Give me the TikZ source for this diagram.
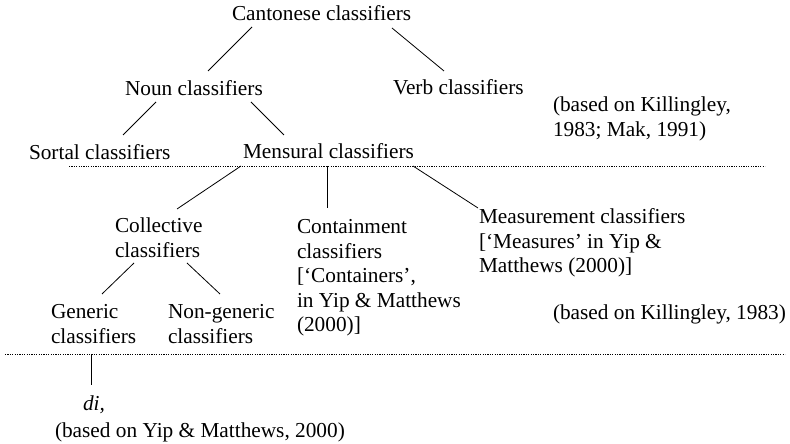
\documentclass[tikz,border=0pt]{standalone}
\usepackage{fontspec}
\setmainfont{Liberation Serif}
\begin{document}
\begin{tikzpicture}[x=1pt,y=1pt,
  txt/.style={inner sep=0pt,outer sep=0pt,font=\fontsize{21.3}{24.5}\selectfont},
  blk/.style={txt,align=left,anchor=north west},
  one/.style={txt,anchor=base west},
  conn/.style={line width=0.8pt},
  sep/.style={line width=0.7pt,dash pattern=on 1.2pt off 1.2pt}]
\useasboundingbox (0,0) rectangle (790,444);
% nodes
\node[one] (cant) at (232,423) {Cantonese classifiers};
\node[one] (noun) at (125,348) {Noun classifiers};
\node[one] (verb) at (393,349) {Verb classifiers};
\node[blk] (basedA) at (553,349.15) {\strut(based on Killingley,\\1983; Mak, 1991)};
\node[one] (sortal) at (29,284) {Sortal classifiers};
\node[one] (mens) at (243,285) {Mensural classifiers};
\node[blk] (coll) at (115,228.15) {\strut Collective\\classifiers};
\node[blk] (cont) at (297,227.15) {\strut Containment\\classifiers\\{[}‘Containers’,\\in Yip \& Matthews\\(2000)]};
\node[blk] (meas) at (479,237.15) {\strut Measurement classifiers\\{[}‘Measures’ in Yip \&\\Matthews (2000)]};
\node[one] (basedB) at (553,124) {(based on Killingley, 1983)};
\node[blk] (gen) at (51,142.15) {\strut Generic\\classifiers};
\node[blk] (nongen) at (168,142.15) {\strut Non-generic\\classifiers};
\node[one] (di) at (83,33) {\textit{di,}};
\node[one] (basedC) at (55,6) {(based on Yip \& Matthews, 2000)};
% separators
\coordinate (s1a) at (69,278);
\coordinate (s1b) at (765,278);
\coordinate (s2a) at (5,90);
\coordinate (s2b) at (785,90);
\draw[sep] (s1a) -- (s1b);
\draw[sep] (s2a) -- (s2b);
% connectors
\draw[conn] ([shift={(20,-6)}]cant.base west) -- ([shift={(83,25)}]noun.base west);
\draw[conn] ([shift={(160,-7)}]cant.base west) -- ([shift={(51,24)}]verb.base west);
\draw[conn] ([shift={(31,-6)}]noun.base west) -- ([shift={(94,25)}]sortal.base west);
\draw[conn] ([shift={(126,-6)}]noun.base west) -- ([shift={(41,24)}]mens.base west);
\draw[conn] ([shift={(-2,-7)}]mens.base west) -- ([shift={(62,6.85)}]coll.north west);
\draw[conn] ([shift={(84,-7)}]mens.base west) -- ([shift={(30,8.85)}]cont.north west);
\draw[conn] ([shift={(170,-7)}]mens.base west) -- ([shift={(-1,-1.15)}]meas.north west);
\draw[conn] ([shift={(19,-47.15)}]coll.north west) -- ([shift={(51,7.85)}]gen.north west);
\draw[conn] ([shift={(72,-47.15)}]coll.north west) -- ([shift={(52,7.85)}]nongen.north west);
\draw[conn] ([shift={(40,-52.15)}]gen.north west) -- ([shift={(8,26)}]di.base west);
\end{tikzpicture}
\end{document}
